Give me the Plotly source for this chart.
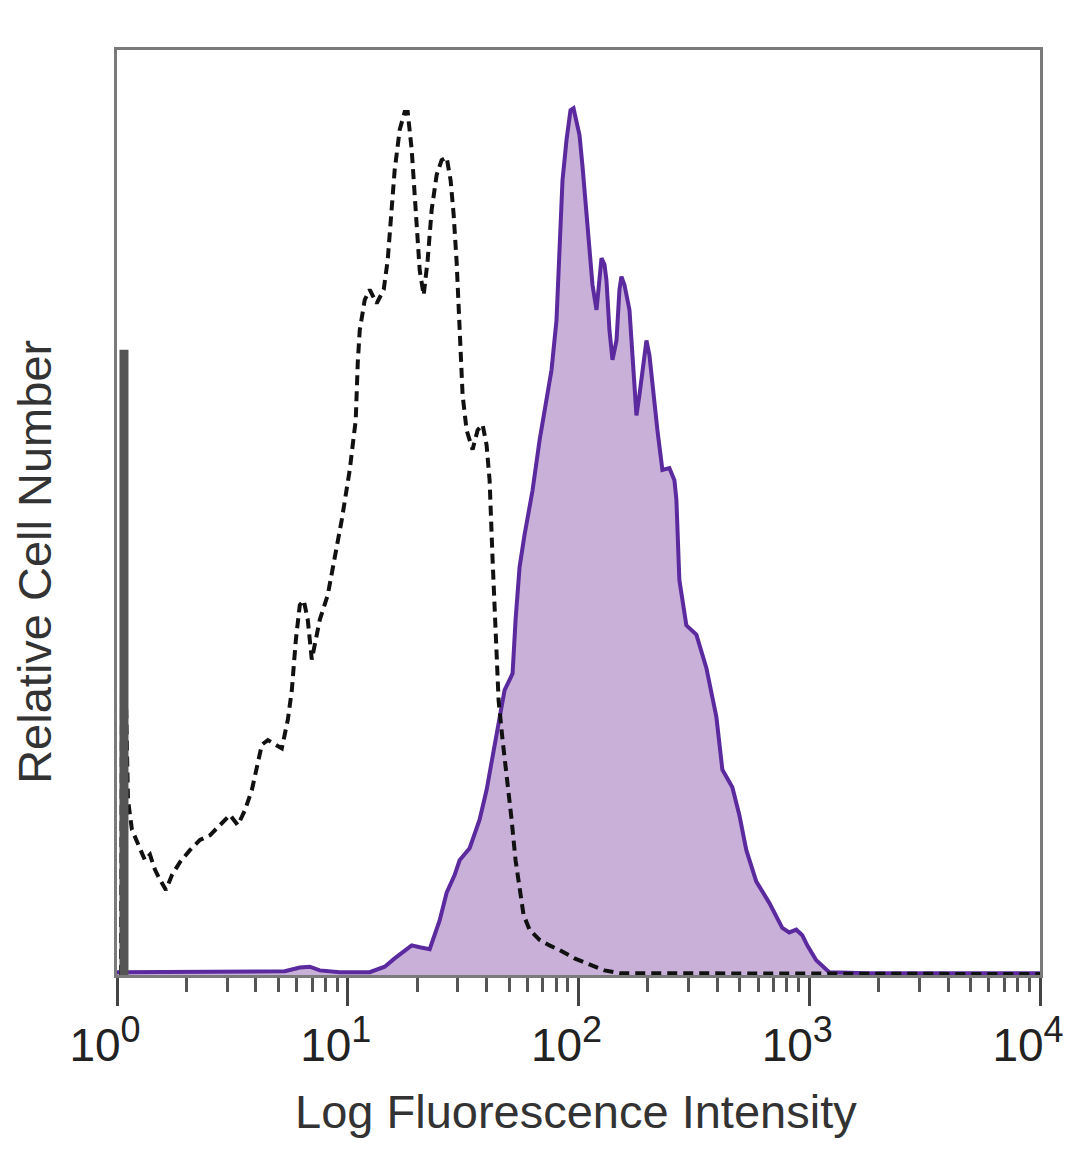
import plotly.graph_objects as go

# stained sample (filled purple histogram)
stain_x = [1.00, 1.535, 2.288, 3.765, 5.337, 6.197, 6.847, 7.564, 9.234, 12.45,
           14.46, 15.97, 17.65, 18.93, 20.50, 22.65, 25.02, 26.83, 29.05, 30.53,
           33.74, 37.27, 39.96, 42.43, 45.50, 47.83, 50.27, 51.80, 53.37, 55.54,
           58.38, 61.37, 63.23, 67.80, 72.68, 76.39, 80.29, 82.73, 85.24, 88.74,
           92.35, 95.15, 98.02, 101.0, 104.1, 108.3, 111.6, 115.0, 119.7, 123.3,
           125.8, 129.6, 132.2, 136.2, 140.4, 146.1, 150.5, 153.5, 158.2, 166.3,
           173.1, 178.3, 183.7, 191.1, 197.0, 203.0, 209.1, 219.8, 231.0, 247.7,
           260.4, 265.6, 273.6, 293.4, 324.2, 358.2, 395.8, 420.2, 464.2, 497.7,
           533.7, 589.7, 671.0, 764.0, 819.3, 878.5, 932.6, 980.2, 1072, 1161,
           1221, 1818, 4037, 10000]
stain_y = [0.3, 0.3, 0.4, 0.3, 0.4, 0.8, 0.9, 0.5, 0.3, 0.3,
           0.9, 1.8, 2.7, 3.2, 3.0, 2.8, 5.9, 8.9, 10.8, 12.4,
           13.7, 16.8, 20.0, 23.8, 27.6, 30.8, 31.9, 32.6, 38.4, 44.1,
           47.6, 50.3, 52.4, 57.8, 62.2, 65.4, 70.8, 77.3, 85.9, 90.3,
           93.5, 93.7, 92.4, 90.8, 87.4, 82.7, 78.1, 74.6, 71.9, 75.7,
           77.5, 76.8, 75.1, 69.7, 66.5, 68.6, 74.1, 75.5, 74.6, 71.9,
           64.3, 60.5, 62.7, 65.9, 68.6, 67.0, 63.8, 58.9, 54.6, 54.8,
           53.5, 51.4, 42.7, 37.8, 36.8, 33.2, 27.9, 22.2, 20.3, 17.3,
           13.5, 10.1, 7.8, 5.1, 4.6, 4.9, 4.3, 3.2, 1.6, 0.8,
           0.3, 0.2, 0.2, 0.2]

# isotype control (dashed black histogram)
ctrl_x = [1.041, 1.051, 1.094, 1.116, 1.161, 1.233, 1.322, 1.390, 1.460, 1.535,
          1.630, 1.730, 1.874, 2.070, 2.288, 2.527, 2.792, 3.085, 3.341, 3.582,
          3.841, 4.078, 4.243, 4.506, 4.831, 5.180, 5.500, 5.724, 5.956, 6.197,
          6.449, 6.711, 6.985, 7.269, 7.564, 8.194, 8.784, 9.419, 10.20, 10.83,
          11.05, 11.27, 11.85, 12.45, 13.35, 14.32, 14.90, 15.35, 15.97, 16.80,
          17.65, 18.19, 18.93, 19.70, 20.50, 21.33, 22.20, 23.10, 24.28, 25.52,
          26.83, 27.92, 28.77, 29.65, 30.53, 31.46, 32.74, 34.76, 36.54, 38.40,
          39.96, 41.18, 42.43, 43.72, 45.05, 46.88, 49.28, 51.29, 53.37, 55.54,
          57.80, 61.37, 67.80, 74.90, 82.73, 96.09, 111.6, 129.6, 150.5, 334.2,
          905.2, 2453, 10000]
ctrl_y = [0.0, 30.8, 29.7, 18.9, 15.7, 14.1, 12.4, 13.0, 11.4, 10.3,
          9.2, 10.8, 12.2, 13.5, 14.6, 15.1, 16.2, 17.3, 16.2, 17.8,
          20.0, 22.7, 24.9, 25.4, 24.9, 24.5, 27.6, 30.8, 36.2, 40.0,
          40.5, 38.4, 34.1, 36.2, 38.4, 41.1, 44.9, 49.2, 54.6, 60.0,
          66.2, 69.7, 73.0, 74.1, 72.6, 74.1, 77.3, 81.6, 87.0, 91.4,
          93.3, 93.3, 89.2, 82.7, 76.2, 73.5, 77.3, 82.7, 86.5, 88.1,
          88.4, 85.9, 82.2, 77.0, 69.7, 62.7, 58.9, 56.8, 58.9, 59.5,
          57.3, 53.5, 44.9, 36.2, 29.7, 25.4, 21.1, 16.8, 12.4, 9.2,
          6.5, 4.9, 3.8, 3.2, 2.7, 1.8, 1.1, 0.5, 0.2, 0.2,
          0.1, 0.1, 0.1]

# off-scale pile-up in the first channel (gray bar)
spike_x = [1.072]
spike_y = [67.6]

tick_vals = [1, 10, 100, 1000, 10000]
tick_exp = ["0", "1", "2", "3", "4"]
tick_text = [f'10<sup><span style="font-size:36px">{e}</span></sup>' for e in tick_exp]
minor_vals = [m * d for d in [1, 10, 100, 1000] for m in range(2, 10)]

FONT = "Liberation Sans, Arial, sans-serif"

fig = go.Figure()

fig.add_trace(
    go.Scatter(
        x=stain_x,
        y=stain_y,
        mode="lines",
        fill="tozeroy",
        fillcolor="#C9B0D9",
        line=dict(color="#5B2A9E", width=4),
        showlegend=False,
    )
)

fig.add_trace(
    go.Scatter(
        x=ctrl_x,
        y=ctrl_y,
        mode="lines",
        line=dict(color="#111111", width=4, dash="10px,6px"),
        showlegend=False,
    )
)

fig.add_trace(
    go.Scatter(
        x=[spike_x[0], spike_x[0]],
        y=[0, spike_y[0]],
        mode="lines",
        line=dict(color="#555555", width=9),
        showlegend=False,
    )
)

# the page body adds an 8px offset, so margins are trimmed by that amount
fig.update_layout(
    width=1080,
    height=1169,
    margin=dict(l=109, r=48, t=42, b=202),
    paper_bgcolor="white",
    plot_bgcolor="white",
    font=dict(family=FONT, color="#222222"),
    xaxis=dict(
        type="log",
        range=[0, 4],
        tickmode="array",
        tickvals=tick_vals,
        ticktext=tick_text,
        ticks="outside",
        ticklen=28,
        tickwidth=3,
        tickcolor="#444444",
        tickfont=dict(size=46, color="#222222"),
        ticklabelshift=-12,
        showgrid=False,
        zeroline=False,
        showline=True,
        linecolor="#7a7a7a",
        linewidth=3,
        mirror=True,
        minor=dict(
            tickmode="array",
            tickvals=minor_vals,
            ticks="outside",
            ticklen=14,
            tickwidth=3,
            tickcolor="#555555",
            showgrid=False,
        ),
    ),
    yaxis=dict(
        range=[0, 100],
        showticklabels=False,
        ticks="",
        showgrid=False,
        zeroline=False,
        showline=True,
        linecolor="#7a7a7a",
        linewidth=3,
        mirror=True,
    ),
    annotations=[
        dict(
            text="Log Fluorescence Intensity",
            xref="paper",
            yref="paper",
            x=0.497,
            y=-0.148,
            xanchor="center",
            yanchor="middle",
            showarrow=False,
            font=dict(size=47, color="#333333", family=FONT),
        ),
        dict(
            text="Relative Cell Number",
            xref="paper",
            yref="paper",
            x=-0.089,
            y=0.4465,
            xanchor="center",
            yanchor="middle",
            textangle=-90,
            showarrow=False,
            font=dict(size=47, color="#333333", family=FONT),
        ),
    ],
)

fig.write_html("out.html")
